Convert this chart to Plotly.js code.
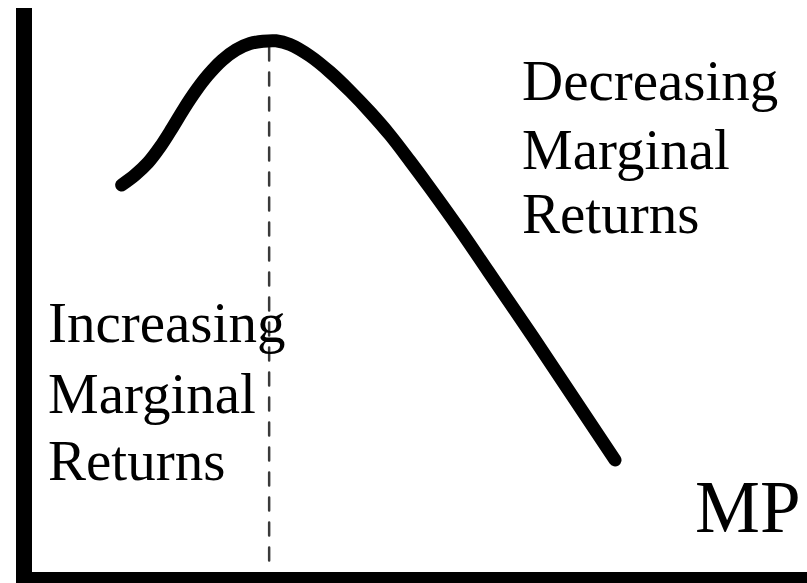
<!DOCTYPE html>
<html>
<head>
<meta charset="utf-8">
<script src="https://cdn.plot.ly/plotly-3.0.1.min.js"></script>
<style>
  html, body { margin: 0; padding: 0; background: #fff; }
  #chart { width: 807px; height: 583px; }
  .scatterlayer .js-line { stroke-linecap: round; }
</style>
</head>
<body>
<div id="chart"></div>
<script>
// Marginal product curve: input quantity (x) vs. marginal product (y), 0-100 scale
const inputQty = [11.57, 13.29, 14.97, 16.52, 18.06, 19.61, 21.16, 22.71, 24.52, 26.32, 28.13, 29.81, 31.48,
                  33.29, 35.87, 38.45, 41.03, 43.61, 46.19, 48.77, 51.35, 55.23, 58.84, 64.65, 75.23];
const marginalProduct = [68.62, 70.39, 72.58, 75.35, 78.64, 82.15, 85.35, 88.11, 90.72, 92.58, 93.70, 94.11, 94.18,
                         93.53, 91.49, 88.65, 85.28, 81.56, 77.48, 72.87, 68.09, 60.64, 53.37, 41.67, 19.86];

// Point where marginal returns switch from increasing to decreasing
const turnX = [30.6, 30.6];
const turnY = [93.0, 1.5];

const leftLabel = ['Increasing', 'Marginal', 'Returns'];
const rightLabel = ['Decreasing', 'Marginal', 'Returns'];
const curveLabel = 'MP';

const serif = 'Liberation Serif, Times New Roman, serif';

const traces = [
  {
    x: turnX, y: turnY, mode: 'lines', hoverinfo: 'skip',
    line: { color: '#3a3a3a', width: 2.5, dash: '13px,12px' }
  },
  {
    x: inputQty, y: marginalProduct, mode: 'lines', hoverinfo: 'skip',
    line: { color: '#000', width: 13, shape: 'spline', smoothing: 1, simplify: false }
  }
];

const annotations = [];
const leftY = [44.2, 31.6, 19.7];
const rightY = [87.1, 75.0, 63.5];
leftLabel.forEach((t, i) => annotations.push({
  text: t, x: 1.8, y: leftY[i], xref: 'x', yref: 'y',
  xanchor: 'left', yanchor: 'middle', showarrow: false,
  font: { family: serif, size: 57, color: '#000' }
}));
rightLabel.forEach((t, i) => annotations.push({
  text: t, x: 63.0, y: rightY[i], xref: 'x', yref: 'y',
  xanchor: 'left', yanchor: 'middle', showarrow: false,
  font: { family: serif, size: 57, color: '#000' }
}));
annotations.push({
  text: curveLabel, x: 85.3, y: 11.4, xref: 'x', yref: 'y',
  xanchor: 'left', yanchor: 'middle', showarrow: false,
  font: { family: serif, size: 73, color: '#000' }
});

const layout = {
  width: 807, height: 583,
  margin: { l: 32, r: 0, t: 8, b: 11 },
  paper_bgcolor: '#fff', plot_bgcolor: '#fff',
  showlegend: false,
  xaxis: {
    range: [0, 100], showline: true, linecolor: '#000', linewidth: 12,
    showgrid: false, zeroline: false, showticklabels: false, ticks: ''
  },
  yaxis: {
    range: [0, 100], showline: true, linecolor: '#000', linewidth: 16,
    showgrid: false, zeroline: false, showticklabels: false, ticks: ''
  },
  annotations: annotations
};

Plotly.newPlot('chart', traces, layout, { staticPlot: true, displayModeBar: false });
</script>
</body>
</html>
